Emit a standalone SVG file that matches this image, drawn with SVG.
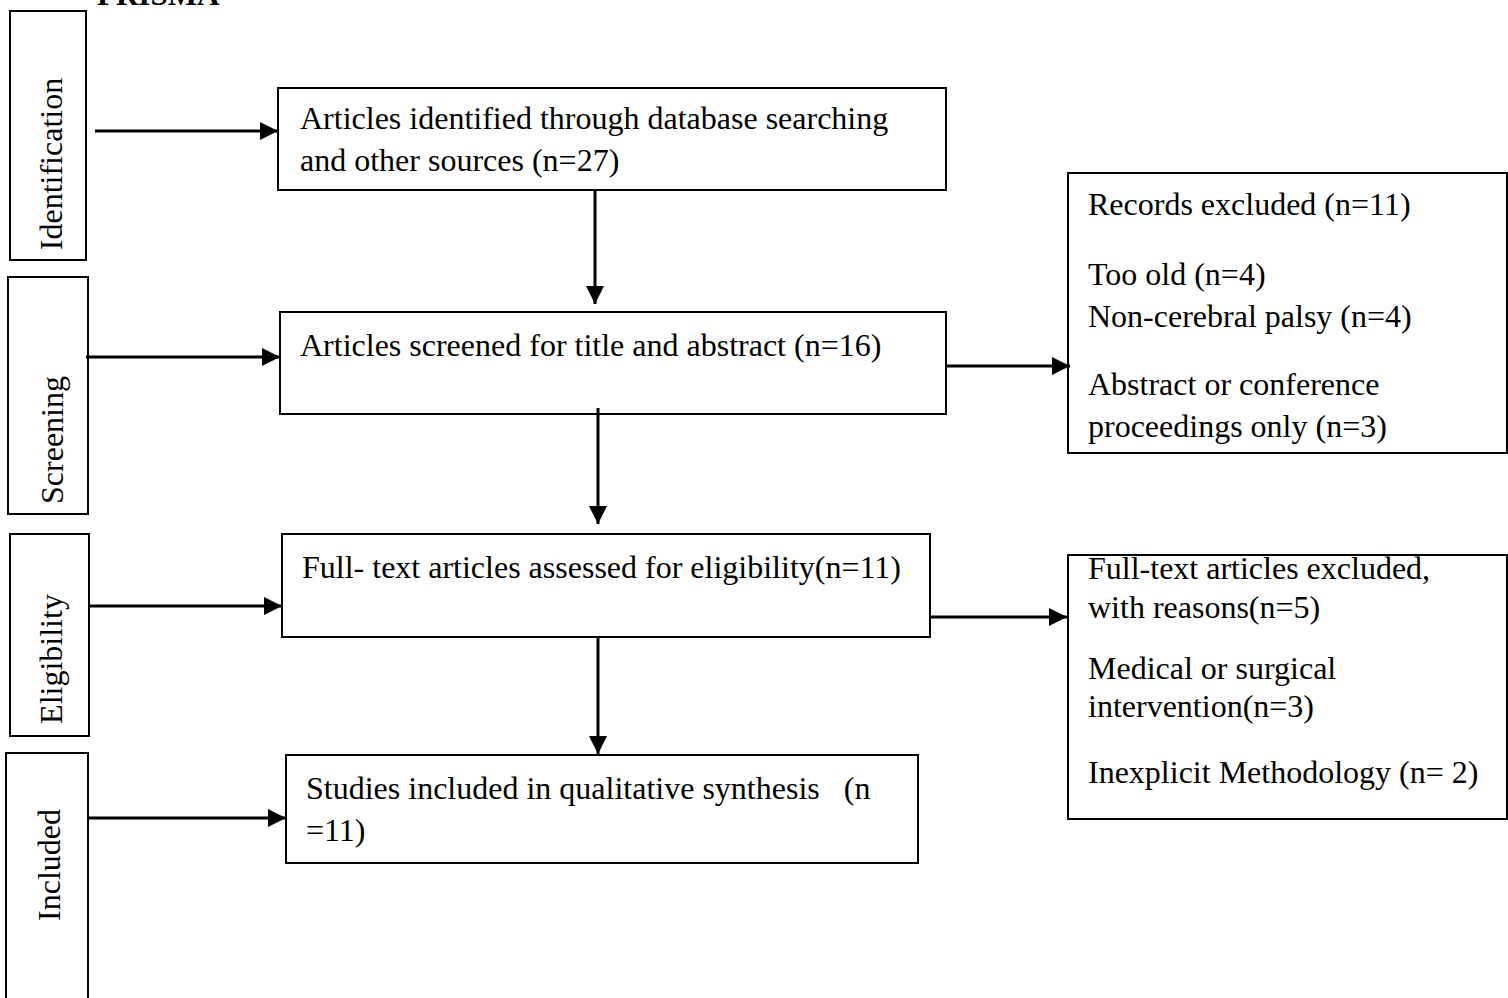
<svg xmlns="http://www.w3.org/2000/svg" width="1508" height="998" viewBox="0 0 1508 998">
<style>
.box{fill:#fff;stroke:#000;stroke-width:2}
.t{font-family:"Liberation Serif","Times New Roman",serif;font-size:32px;fill:#000}
.c{stroke:#000;stroke-width:3;fill:none;marker-end:url(#ah)}
</style>
<defs>
<marker id="ah" markerWidth="6" markerHeight="6" refX="6" refY="3" orient="auto" markerUnits="strokeWidth">
<path d="M0,0 L6,3 L0,6 Z" fill="#000"/>
</marker>
</defs>
<rect width="1508" height="998" fill="#fff"/>
<text class="t" x="97" y="5" style="font-weight:bold;font-size:31px">PRISMA</text>
<g id="stage-identification"><rect class="box" x="10" y="11" width="76" height="249"/><text class="t" text-anchor="middle" transform="translate(62,164) rotate(-90)">Identification</text></g>
<g id="stage-screening"><rect class="box" x="8" y="277" width="80" height="237"/><text class="t" text-anchor="middle" transform="translate(63,440) rotate(-90)">Screening</text></g>
<g id="stage-eligibility"><rect class="box" x="10" y="534" width="79" height="202"/><text class="t" text-anchor="middle" transform="translate(62,659) rotate(-90)">Eligibility</text></g>
<g id="stage-included"><rect class="box" x="6" y="753" width="82" height="260"/><text class="t" text-anchor="middle" transform="translate(60,865) rotate(-90)">Included</text></g>
<g id="identified"><rect class="box" x="278" y="88" width="668" height="102"/><text class="t" x="300" y="129">Articles identified through database searching</text><text class="t" x="300" y="171">and other sources (n=27)</text></g>
<g id="screened"><rect class="box" x="280" y="312" width="666" height="102"/><text class="t" x="300" y="356">Articles screened for title and abstract (n=16)</text></g>
<g id="eligible"><rect class="box" x="282" y="534" width="648" height="103"/><text class="t" x="302" y="578">Full- text articles assessed for eligibility(n=11)</text></g>
<g id="included"><rect class="box" x="286" y="755" width="632" height="108"/><text class="t" x="306" y="799" xml:space="preserve">Studies included in qualitative synthesis   (n</text><text class="t" x="306" y="841">=11)</text></g>
<g id="records-excluded"><rect class="box" x="1068" y="173" width="439" height="280"/><text class="t" x="1088" y="215">Records excluded (n=11)</text><text class="t" x="1088" y="285">Too old (n=4)</text><text class="t" x="1088" y="327">Non-cerebral palsy (n=4)</text><text class="t" x="1088" y="395">Abstract or conference</text><text class="t" x="1088" y="437">proceedings only (n=3)</text></g>
<g id="fulltext-excluded"><rect class="box" x="1068" y="555" width="439" height="264"/><text class="t" x="1088" y="579">Full-text articles excluded,</text><text class="t" x="1088" y="618">with reasons(n=5)</text><text class="t" x="1088" y="679">Medical or surgical</text><text class="t" x="1088" y="717">intervention(n=3)</text><text class="t" x="1088" y="783">Inexplicit Methodology (n= 2)</text></g>
<g id="connectors">
<line class="c" x1="95" y1="131" x2="278" y2="131"/>
<line class="c" x1="86" y1="357" x2="280" y2="357"/>
<line class="c" x1="88" y1="606" x2="282" y2="606"/>
<line class="c" x1="88" y1="818" x2="286" y2="818"/>
<line class="c" x1="595" y1="190" x2="595" y2="304"/>
<line class="c" x1="598" y1="408" x2="598" y2="524"/>
<line class="c" x1="598" y1="637" x2="598" y2="754"/>
<line class="c" x1="946" y1="366" x2="1070" y2="366"/>
<line class="c" x1="930" y1="617" x2="1067" y2="617"/>
</g>
</svg>
